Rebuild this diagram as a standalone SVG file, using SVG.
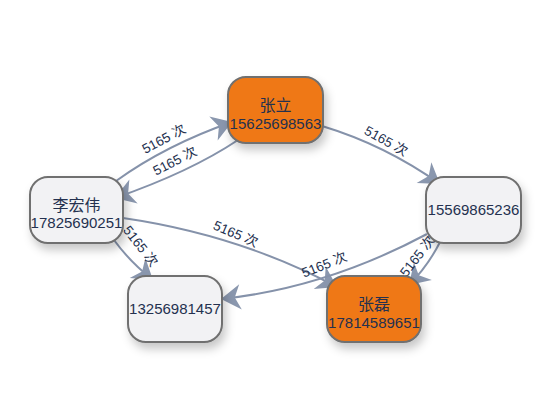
<svg xmlns="http://www.w3.org/2000/svg" width="550" height="420" viewBox="0 0 550 420">
<defs>
<style>
.edge{fill:none;stroke:#8592aa;stroke-width:2;}
.lbl{font-family:"Liberation Sans","Noto Sans CJK SC",sans-serif;font-size:13.5px;fill:#24314f;text-anchor:middle;}
.node rect{stroke:#6f6f6f;stroke-width:2;filter:url(#sh);}
.light rect{fill:#f2f2f4;}
.orange rect{fill:#ef7818;}
.node text{font-family:"Liberation Sans","Noto Sans CJK SC",sans-serif;font-size:15px;fill:#24314f;text-anchor:middle;}
.node text.nm{font-size:16px;}
</style>
<marker id="arr" markerUnits="userSpaceOnUse" markerWidth="30" markerHeight="30" viewBox="-20 -13 22 26" refX="0" refY="0" orient="auto">
<path d="M0,0 L-17,-11 L-12,0 L-17,11 Z" fill="#8a97ae"/>
</marker>
<filter id="sh" x="-30%" y="-30%" width="170%" height="180%">
<feDropShadow dx="3" dy="6" stdDeviation="5" flood-color="#000" flood-opacity="0.22"/>
</filter>
</defs>
<g id="connectors">
<path class="edge" d="M116,181 Q166,145 232,122" marker-end="url(#arr)"/>
<path class="edge" d="M238,140 Q190,172 115,198" marker-end="url(#arr)"/>
<path class="edge" d="M322,126 Q385,145 440,184" marker-end="url(#arr)"/>
<path class="edge" d="M123,218 Q240,235 337,287" marker-end="url(#arr)"/>
<path class="edge" d="M427,234 Q326,288 221,299" marker-end="url(#arr)"/>
<path class="edge" d="M440,242 Q428,266 409,285" marker-end="url(#arr)"/>
<path class="edge" d="M114,240 Q130,262 153,280" marker-end="url(#arr)"/>
<text class="lbl" transform="translate(166,143) rotate(-28)">5165 次</text>
<text class="lbl" transform="translate(177,165) rotate(-27)">5165 次</text>
<text class="lbl" transform="translate(384,145) rotate(29)">5165 次</text>
<text class="lbl" transform="translate(234,238) rotate(23)">5165 次</text>
<text class="lbl" transform="translate(326,269) rotate(-22)">5165 次</text>
<text class="lbl" transform="translate(421,259) rotate(-52)">5165 次</text>
<text class="lbl" transform="translate(137,249) rotate(52)">5165 次</text>
</g>
<g id="n-zhangli" class="node orange">
<rect x="228" y="77" width="95" height="66" rx="18"/>
<text class="nm" x="275.5" y="111">张立</text>
<text x="275.5" y="129">15625698563</text>
</g>
<g id="n-15569865236" class="node light">
<rect x="426" y="177" width="95" height="66" rx="18"/>
<text x="473.5" y="215">15569865236</text>
</g>
<g id="n-lihongwei" class="node light">
<rect x="30" y="177" width="93" height="66" rx="18"/>
<text class="nm" x="76.5" y="211">李宏伟</text>
<text x="76.5" y="228">17825690251</text>
</g>
<g id="n-13256981457" class="node light">
<rect x="128" y="276" width="94" height="66" rx="18"/>
<text x="175" y="314">13256981457</text>
</g>
<g id="n-zhanglei" class="node orange">
<rect x="327" y="276" width="94" height="66" rx="18"/>
<text class="nm" x="374" y="310">张磊</text>
<text x="374" y="328">17814589651</text>
</g>
</svg>
